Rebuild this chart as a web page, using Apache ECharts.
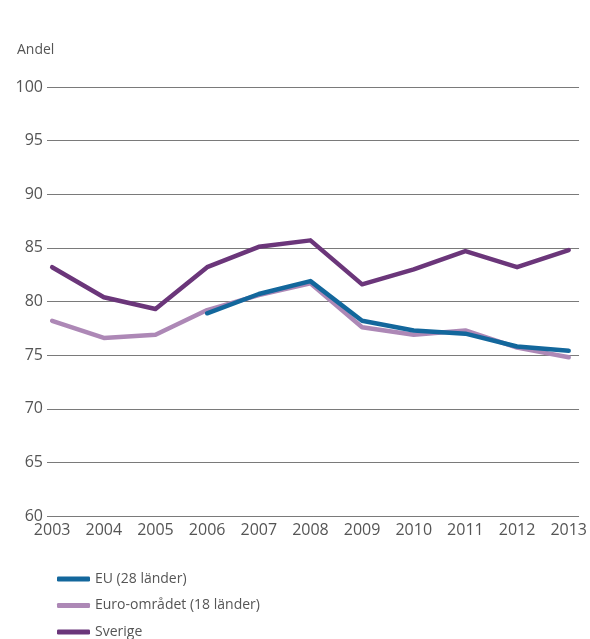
<!DOCTYPE html>
<html lang="sv">
<head>
    <meta charset="UTF-8">
    <title>Andel</title>
    <script src="https://cdn.jsdelivr.net/npm/echarts@6/dist/echarts.min.js"></script>
    <style>
        html, body { margin: 0; padding: 0; background: #fff; }
        #main { width: 590px; height: 639px; }
    </style>
</head>
<body>
    <div id="main"></div>
    <script>
        // år och värden
        const years = [2003, 2004, 2005, 2006, 2007, 2008, 2009, 2010, 2011, 2012, 2013]
        const eu = [null, null, null, 78.9, 80.7, 81.9, 78.2, 77.3, 77.0, 75.8, 75.4]
        const euro = [78.2, 76.6, 76.9, 79.2, 80.6, 81.7, 77.6, 76.9, 77.3, 75.7, 74.8]
        const sverige = [83.2, 80.4, 79.3, 83.2, 85.1, 85.7, 81.6, 83.0, 84.7, 83.2, 84.8]
        const names = ['EU (28 länder)', 'Euro-området (18 länder)', 'Sverige']
        const colors = ['#13679c', '#ad88b6', '#6b367a']

        const font = '"Open Sans", Lato, sans-serif'
        const pairs = vals => years.map((y, i) => [y, vals[i]])

        function init () {
            const chart = echarts.init(document.getElementById('main'))
            const line = (name, vals, color, z) => ({
                name,
                type: 'line',
                data: pairs(vals),
                symbol: 'none',
                z,
                lineStyle: { color, width: 4.5, cap: 'round', join: 'round' },
                itemStyle: { color },
                emphasis: { disabled: true }
            })
            const option = {
                animation: false,
                textStyle: { fontFamily: font },
                title: {
                    text: 'Andel',
                    left: 12,
                    top: 38,
                    textStyle: { fontSize: 14, fontWeight: 'normal', color: '#555', fontFamily: font }
                },
                grid: { left: 47, right: 2, top: 87, bottom: 123 },
                xAxis: {
                    type: 'value',
                    min: 2002.9,
                    max: 2013.2,
                    axisLine: { show: false },
                    axisTick: { show: false },
                    splitLine: { show: false },
                    axisLabel: {
                        customValues: years,
                        formatter: v => String(v),
                        color: '#555',
                        fontSize: 16,
                        margin: 6
                    }
                },
                yAxis: {
                    type: 'value',
                    min: 60,
                    max: 100,
                    interval: 5,
                    axisLine: { show: false },
                    axisTick: { show: false },
                    splitLine: { lineStyle: { color: '#7a7a7a', width: 1 } },
                    axisLabel: { color: '#555', fontSize: 16, margin: 4 }
                },
                legend: {
                    orient: 'vertical',
                    left: 52,
                    top: 567,
                    height: 100,
                    itemWidth: 33,
                    itemHeight: 5,
                    itemGap: 12.5,
                    icon: 'roundRect',
                    data: names,
                    textStyle: { color: '#555', fontSize: 14, fontFamily: font }
                },
                series: [
                    line(names[1], euro, colors[1], 2),
                    line(names[0], eu, colors[0], 3),
                    line(names[2], sverige, colors[2], 4)
                ]
            }
            chart.setOption(option)
        }

        init()
    </script>
</body>
</html>
